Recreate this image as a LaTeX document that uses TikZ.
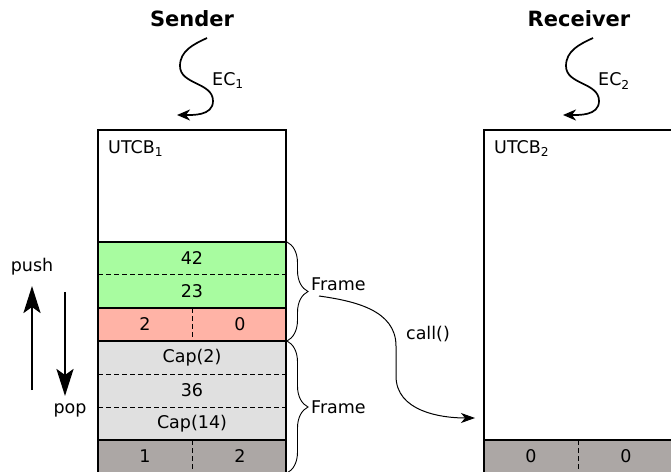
\documentclass[tikz,border=0pt]{standalone}
\usepackage{fontspec}
\setmainfont{DejaVu Sans}
\usepackage{xcolor}
\usetikzlibrary{arrows.meta,positioning,decorations.pathreplacing}

\definecolor{wordgreen}{RGB}{168,252,160}
\definecolor{headred}{RGB}{255,179,166}
\definecolor{capgrey}{RGB}{224,224,224}
\definecolor{regsgrey}{RGB}{172,167,165}

\tikzset{
  row/.style={minimum width=188pt, minimum height=33pt, inner sep=0pt, outer sep=0pt},
  box/.style={line width=1.8pt},
  sep/.style={dash pattern=on 5pt off 3pt, line width=1pt},
  ec/.style={line width=1.7pt, -{Stealth[length=13pt,width=11pt,inset=4pt]}},
  call/.style={line width=1pt, -{Stealth[length=14pt,width=10pt,inset=4pt]}},
  stackarrow/.style={line width=2.6pt, -{Stealth[length=27pt,width=17pt,inset=6pt]}},
  framebrace/.style={line width=0.9pt, decorate, decoration={brace, amplitude=21pt, raise=1pt}},
  title/.style={font=\fontsize{21pt}{24pt}\selectfont\bfseries},
}

\begin{document}
\begin{tikzpicture}[x=1pt, y=1pt, inner sep=2pt, font=\fontsize{17.5pt}{20pt}\selectfont]
  \useasboundingbox (0,0) rectangle (671,471);

  % sender stack
  \node[row, fill=regsgrey, anchor=south west] (s-regs) at (98,-2) {};
  \node[row, fill=capgrey, above=0pt of s-regs] (s-cap14) {Cap(14)};
  \node[row, fill=capgrey, above=0pt of s-cap14] (s-36) {36};
  \node[row, fill=capgrey, above=0pt of s-36] (s-cap2) {Cap(2)};
  \node[row, fill=headred, above=0pt of s-cap2] (s-mtd) {};
  \node[row, fill=wordgreen, above=0pt of s-mtd] (s-23) {23};
  \node[row, fill=wordgreen, above=0pt of s-23] (s-42) {42};
  \node[row, minimum height=112pt, above=0pt of s-42] (s-top) {};

  \node (s-mtd-a) at ([xshift=-47pt]s-mtd.center) {2};
  \node (s-mtd-b) at ([xshift=48pt]s-mtd.center) {0};
  \node (s-regs-a) at ([xshift=-47pt]s-regs.center) {1};
  \node (s-regs-b) at ([xshift=48pt]s-regs.center) {2};

  \foreach \r in {s-23,s-36,s-cap14}
    \draw[sep] (\r.north west) -- (\r.north east);
  \draw[sep] (s-mtd.north) -- (s-mtd.south);
  \draw[sep] (s-regs.north) -- (s-regs.south);
  \foreach \r in {s-42,s-mtd,s-cap2,s-regs}
    \draw[box] (\r.north west) -- (\r.north east);
  \draw[box] (s-regs.south west) rectangle (s-top.north east);
  \node[anchor=north west, inner sep=0pt] (s-name) at ([xshift=10pt,yshift=-10pt]s-top.north west) {UTCB\textsubscript{1}};

  % receiver stack
  \node[row, fill=regsgrey, anchor=south west] (r-regs) at (484,-2) {};
  \node[row, minimum height=310pt, above=0pt of r-regs] (r-top) {};
  \node (r-regs-a) at ([xshift=-47pt]r-regs.center) {0};
  \node (r-regs-b) at ([xshift=48pt]r-regs.center) {0};
  \draw[sep] (r-regs.north) -- (r-regs.south);
  \draw[box] (r-regs.north west) -- (r-regs.north east);
  \draw[box] (r-regs.south west) rectangle (r-top.north east);
  \node[anchor=north west, inner sep=0pt] (r-name) at ([xshift=10pt,yshift=-10pt]r-top.north west) {UTCB\textsubscript{2}};

  % titles and execution contexts
  \node[title, anchor=base] (sender) at (192,444) {Sender};
  \node[title, anchor=base] (receiver) at (579,444) {Receiver};

  \coordinate (s-ec) at (207,433);
  \coordinate (s-ecend) at (177,356);
  \draw[ec] (s-ec) to[out=205,in=90] (180,405) to[out=-90,in=90] (213,370) to[out=-90,in=0] (s-ecend);
  \node[anchor=base west] (s-eclbl) at (210,385) {EC\textsubscript{1}};

  \coordinate (r-ec) at (593,433);
  \coordinate (r-ecend) at (563,356);
  \draw[ec] (r-ec) to[out=205,in=90] (566,405) to[out=-90,in=90] (599,370) to[out=-90,in=0] (r-ecend);
  \node[anchor=base west] (r-eclbl) at (596,385) {EC\textsubscript{2}};

  % frames
  \draw[framebrace] (s-42.north east) -- (s-mtd.south east);
  \draw[framebrace] (s-cap2.north east) -- (s-regs.south east);
  \node[anchor=base west] (s-frame1) at (309,180) {Frame};
  \node[anchor=base west] (s-frame2) at (309,58) {Frame};

  % call
  \coordinate (callstart) at (319,175);
  \coordinate (callend) at (475,53);
  \draw[call] (callstart) to[out=-8,in=90] (396,125) -- (396,95) to[out=-90,in=180] (callend);
  \node[anchor=base] (call-lbl) at (428,131) {call()};

  % push / pop
  \draw[stackarrow] (32,81) -- (32,185);
  \draw[stackarrow] (65,179) -- (65,75);
  \node[anchor=base] (push) at (32,199) {push};
  \node[anchor=base] (pop) at (70,58) {pop};
\end{tikzpicture}
\end{document}
